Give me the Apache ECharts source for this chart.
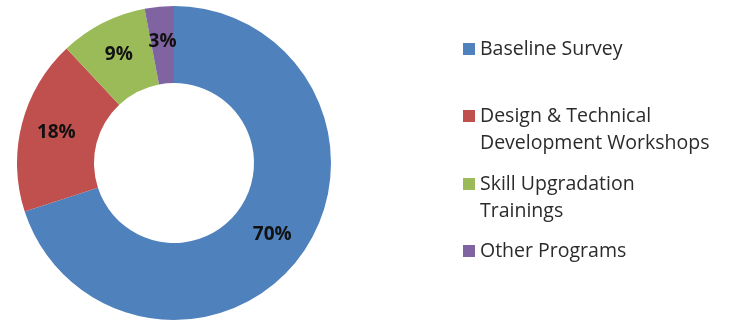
<!DOCTYPE html>
<html>
<head>
<meta charset="utf-8">
<script src="https://cdn.jsdelivr.net/npm/echarts@6/dist/echarts.min.js"></script>
<style>
  html, body { margin: 0; padding: 0; background: #fff; }
  #chart { width: 742px; height: 321px; }
</style>
</head>
<body>
<div id="chart"></div>
<script>
// Share of activities by programme type (percent)
const programs = [
  'Baseline Survey',
  'Design & Technical Development Workshops',
  'Skill Upgradation Trainings',
  'Other Programs'
];
const shares = [70, 18, 9, 3];
// Legend wording, broken over lines as it is printed beside the ring
const legendLines = [
  ['Baseline Survey'],
  ['Design & Technical', 'Development Workshops'],
  ['Skill Upgradation', 'Trainings'],
  ['Other Programs']
];
const colors = ['#4F81BD', '#C0504D', '#9BBB59', '#8064A2'];

const FONT = '"Open Sans", Lato, sans-serif';
const LINE_H = 27;
// vertical centre of each legend marker
const markerCenters = [49, 116, 184, 251];

const chart = echarts.init(document.getElementById('chart'), null, { renderer: 'canvas' });

// One legend per entry so each swatch lines up with the first line of its text.
const legends = programs.map((name, i) => {
  const lines = legendLines[i];
  // a leading blank line keeps the swatch level with the first text line
  const text = lines.length > 1 ? '\n' + lines.join('\n') : lines[0];
  const nLines = lines.length > 1 ? 3 : 1;
  const h = nLines * LINE_H;
  return {
    orient: 'vertical',
    left: 463,
    top: markerCenters[i] - h / 2,
    padding: 0,
    itemWidth: 12,
    itemHeight: 12,
    icon: 'rect',
    selectedMode: false,
    data: [name],
    formatter: () => text,
    textStyle: {
      fontFamily: FONT,
      fontSize: 19.5,
      color: '#2b2b2b',
      lineHeight: LINE_H
    }
  };
});

chart.setOption({
  animation: false,
  color: colors,
  legend: legends,
  series: [{
    type: 'pie',
    center: [174, 163],
    radius: [80, 157],
    startAngle: 90,
    clockwise: true,
    avoidLabelOverlap: false,
    itemStyle: { borderWidth: 0 },
    label: {
      show: true,
      position: 'inside',
      formatter: '{c}%',
      fontFamily: FONT,
      fontWeight: 'bold',
      fontSize: 19,
      color: '#111'
    },
    labelLine: { show: false },
    emphasis: { disabled: true },
    data: programs.map((name, i) => ({ name, value: shares[i] }))
  }]
});
</script>
</body>
</html>
